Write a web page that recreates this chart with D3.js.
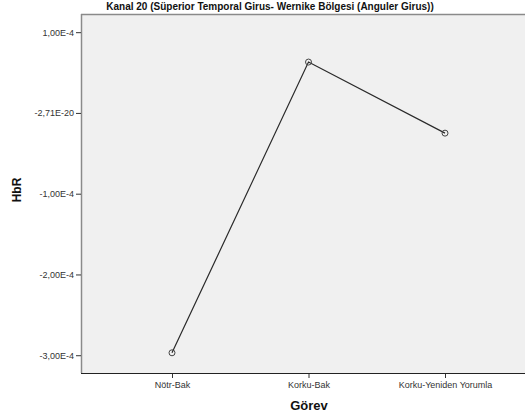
<!DOCTYPE html>
<html>
<head>
<meta charset="utf-8">
<script src="https://cdn.jsdelivr.net/npm/d3@7"></script>
<style>
  body { margin: 0; background: #fff; }
  text { font-family: Arial, "Liberation Sans", sans-serif; }
</style>
</head>
<body>
<div id="chart"></div>
<script>
const categories = ["Nötr-Bak", "Korku-Bak", "Korku-Yeniden Yorumla"];
const values = [-2.97e-4, 0.63e-4, -0.25e-4];
const yTickValues = [1e-4, -2.71e-20, -1e-4, -2e-4, -3e-4];
const yTickLabels = ["1,00E-4", "-2,71E-20", "-1,00E-4", "-2,00E-4", "-3,00E-4"];

const width = 525;
const height = 420;
const plot = {left: 81, top: 14, right: 525, bottom: 373};

const svg = d3.select('#chart').append('svg')
    .attr('width', width)
    .attr('height', height);

// plot background
svg.append('rect')
    .attr('x', plot.left)
    .attr('y', plot.top)
    .attr('width', plot.right - plot.left)
    .attr('height', plot.bottom - plot.top)
    .attr('fill', '#f0f0f0');

const x = d3.scalePoint()
    .domain(categories)
    .range([172, 445]);

const y = d3.scaleLinear()
    .domain([-3.22e-4, 1.225e-4])
    .range([plot.bottom, plot.top]);

// frame lines
svg.append('line')
    .attr('x1', plot.left).attr('x2', plot.right)
    .attr('y1', plot.top + 0.5).attr('y2', plot.top + 0.5)
    .attr('stroke', '#8a8a8a').attr('stroke-width', 1.5);
svg.append('line')
    .attr('x1', plot.left + 0.5).attr('x2', plot.left + 0.5)
    .attr('y1', plot.top).attr('y2', plot.bottom)
    .attr('stroke', '#8a8a8a').attr('stroke-width', 1.5);

// y axis
const yAxis = svg.append('g')
    .attr('transform', `translate(${plot.left},0)`)
    .call(d3.axisLeft(y)
        .tickValues(yTickValues)
        .tickFormat((d, i) => yTickLabels[i])
        .tickSize(5)
        .tickPadding(2));
yAxis.select('.domain').remove();
yAxis.selectAll('line').attr('stroke', '#333');
yAxis.selectAll('text').attr('font-size', 9).attr('fill', '#333')
    .attr('font-family', 'Arial, "Liberation Sans", sans-serif');

// x axis
const xAxis = svg.append('g')
    .attr('transform', `translate(0,${plot.bottom})`)
    .call(d3.axisBottom(x).tickSize(5).tickPadding(4));
xAxis.select('.domain').remove();
xAxis.selectAll('line').attr('stroke', '#333');
xAxis.selectAll('text').attr('font-size', 9).attr('fill', '#333')
    .attr('font-family', 'Arial, "Liberation Sans", sans-serif');

svg.append('line')
    .attr('x1', plot.left).attr('x2', plot.right)
    .attr('y1', plot.bottom + 0.5).attr('y2', plot.bottom + 0.5)
    .attr('stroke', '#222').attr('stroke-width', 1);

// data line
const data = categories.map((c, i) => ({c, v: values[i]}));
svg.append('path')
    .datum(data)
    .attr('d', d3.line().x(d => x(d.c)).y(d => y(d.v)))
    .attr('fill', 'none')
    .attr('stroke', '#2a2a2a')
    .attr('stroke-width', 1.2);

svg.selectAll('circle.pt')
    .data(data)
    .enter().append('circle')
    .attr('class', 'pt')
    .attr('cx', d => x(d.c))
    .attr('cy', d => y(d.v))
    .attr('r', 3)
    .attr('fill', 'none')
    .attr('stroke', '#444')
    .attr('stroke-width', 1);

// title
svg.append('text')
    .attr('x', 270)
    .attr('y', 10)
    .attr('text-anchor', 'middle')
    .attr('font-size', 10)
    .attr('font-weight', 'bold')
    .attr('fill', '#111')
    .text('Kanal 20 (Süperior Temporal Girus- Wernike Bölgesi (Anguler Girus))');

// axis titles
svg.append('text')
    .attr('transform', 'translate(21,190) rotate(-90)')
    .attr('text-anchor', 'middle')
    .attr('font-size', 12)
    .attr('font-weight', 'bold')
    .attr('fill', '#111')
    .text('HbR');

svg.append('text')
    .attr('x', 309)
    .attr('y', 410)
    .attr('text-anchor', 'middle')
    .attr('font-size', 13)
    .attr('font-weight', 'bold')
    .attr('fill', '#111')
    .text('Görev');
</script>
</body>
</html>
